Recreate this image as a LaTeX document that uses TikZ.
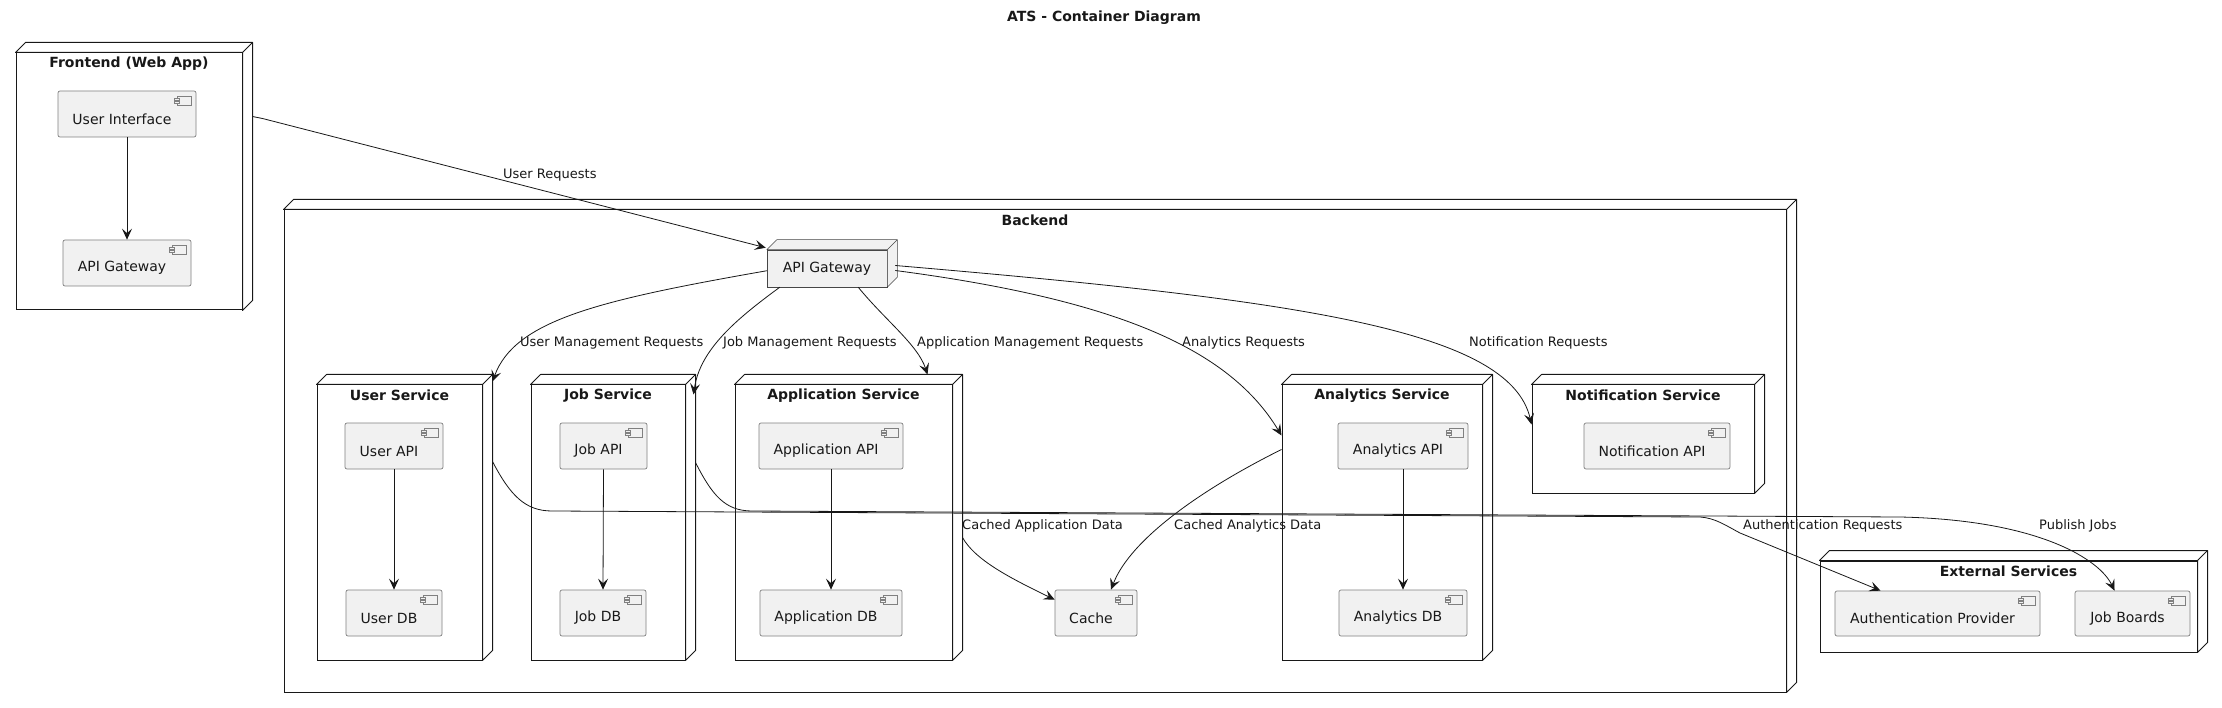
\documentclass[tikz,border=0pt]{standalone}
\usepackage{fontspec}
\setmainfont{DejaVu Sans}
\usetikzlibrary{arrows.meta}
\definecolor{compfill}{HTML}{F1F1F1}
\definecolor{ln}{HTML}{181818}
\definecolor{cborder}{HTML}{808080}
\tikzset{
  comp/.style={draw=cborder, fill=compfill, line width=0.7pt, rounded corners=2pt, inner sep=0pt,
    path picture={
      \draw[cborder, line width=0.6pt, sharp corners, fill=compfill] ([shift={(-19,5)}]path picture bounding box.north east) rectangle ++(14,9);
      \draw[cborder, line width=0.6pt, sharp corners, fill=compfill] ([shift={(-22,7)}]path picture bounding box.north east) rectangle ++(5,2);
      \draw[cborder, line width=0.6pt, sharp corners, fill=compfill] ([shift={(-22,10.5)}]path picture bounding box.north east) rectangle ++(5,2);
    }},
  dbox/.style={draw=ln, line width=1pt, inner sep=0pt},
  dline/.style={draw=ln, line width=1pt, line join=round},
  gwbox/.style={draw=ln!80, line width=0.5pt, inner sep=0pt, fill=compfill},
  gwline/.style={draw=ln!80, line width=0.5pt, line join=round},
  ttl/.style={font=\bfseries\fontsize{14}{16}\selectfont, inner sep=0pt, text=ln},
  txt/.style={font=\fontsize{14}{16}\selectfont, inner sep=0pt, text=ln},
  elbl/.style={font=\fontsize{13}{15}\selectfont, anchor=west, inner sep=0pt, text=ln},
  conn/.style={draw=ln, line width=0.8pt, -{Stealth[length=11pt,width=10pt,inset=4.5pt]}},
}
\newcommand\mkcomp[6]{%
  \node[comp, minimum width={#4-#2}, minimum height={#5-#3}] (#1) at ({(#2+#4)/2},{(#3+#5)/2}) {};
  \node[txt] (#1-t) at ([shift={(-5,5)}]#1.center) {#6};
}
\newcommand\mknode[7]{%
  \node[dbox, fill=#7, minimum width={#4-#2}, minimum height={#5-#3}] (#1) at ({(#2+#4)/2},{(#3+#5)/2}) {};
  \draw[dline, fill=#7] (#1.north west) -- ++(10,-10) -- ([shift={(10,-10)}]#1.north east) -- ([shift={(10,-10)}]#1.south east) -- (#1.south east) -- (#1.north east) -- cycle;
  \draw[dline] (#1.north east) -- ++(10,-10);
  \node[ttl] (#1-l) at ([shift={(0,11)}]#1.north) {#6};
}
\begin{document}
\begin{tikzpicture}[x=1pt,y=-1pt]
\useasboundingbox[fill=white] (0,0) rectangle (2222,708);
\node[ttl] (title) at (1104,18) {ATS - Container Diagram};

% Frontend
\mknode{fe}{16}{53}{242}{310}{Frontend (Web App)}{white}
\mkcomp{ui}{58}{91}{196}{137}{User Interface}
\mkcomp{fgw}{63}{240}{191}{286}{API Gateway}

% Backend
\mknode{be}{284}{210}{1786}{692}{Backend}{white}
\node[gwbox, minimum width=120, minimum height=37] (bgw) at (827,268.5) {};
\draw[gwline, fill=compfill] (bgw.north west) -- ++(10,-10) -- ([shift={(10,-10)}]bgw.north east) -- ([shift={(10,-10)}]bgw.south east) -- (bgw.south east) -- (bgw.north east) -- cycle;
\draw[gwline] (bgw.north east) -- ++(10,-10);
\node[txt] (bgw-t) at (bgw.center) {API Gateway};

\mknode{us}{317}{385}{482}{660}{User Service}{white}
\mkcomp{uapi}{345}{423}{443}{469}{User API}
\mkcomp{udb}{346}{590}{442}{636}{User DB}

\mknode{js}{531}{385}{685}{660}{Job Service}{white}
\mkcomp{japi}{560}{423}{647}{469}{Job API}
\mkcomp{jdb}{560}{590}{646}{636}{Job DB}

\mknode{as}{735}{385}{952}{660}{Application Service}{white}
\mkcomp{aapi}{759}{423}{903}{469}{Application API}
\mkcomp{adb}{760}{590}{902}{636}{Application DB}

\mknode{ans}{1282}{385}{1482}{660}{Analytics Service}{white}
\mkcomp{napi}{1338}{423}{1468}{469}{Analytics API}
\mkcomp{ndb}{1339}{590}{1467}{636}{Analytics DB}

\mknode{ns}{1532}{385}{1754}{493}{Notification Service}{white}
\mkcomp{noapi}{1584}{423}{1730}{469}{Notification API}

\mkcomp{cache}{1055}{590}{1137}{636}{Cache}

% External
\mknode{ext}{1820}{561}{2197}{652}{External Services}{white}
\mkcomp{ap}{1835}{591}{2040}{636}{Authentication Provider}
\mkcomp{jb}{2075}{591}{2190}{636}{Job Boards}

% internal arrows
\draw[conn] (ui.south) -- (fgw.north);
\draw[conn] (uapi.south) -- (udb.north);
\draw[conn] (japi.south) -- (jdb.north);
\draw[conn] (aapi.south) -- (adb.north);
\draw[conn] (napi.south) -- (ndb.north);

% connectors
\draw[conn] ([shift={(10,64)}]fe.north east) -- ++(10,2) -- ([shift={(-1,-2)}]bgw.north west);
\draw[conn] ([shift={(0,21)}]bgw.north west) .. controls (600,300) and (515,320) .. ([shift={(10,-3)}]us.north east);
\draw[conn] ([shift={(13,0)}]bgw.south west) .. controls (735,320) and (700,350) .. ([shift={(8,10)}]js.north east);
\draw[conn] ([shift={(-29,0)}]bgw.south east) .. controls (885,320) and (918,345) .. ([shift={(-25,-10)}]as.north east);
\draw[conn] ([shift={(8,2)}]bgw.east) .. controls (1120,300) and (1230,350) .. ([shift={(0,-87)}]ans.west);
\draw[conn] ([shift={(8,-3)}]bgw.east) .. controls (1300,300) and (1510,330) .. ([shift={(0,40)}]ns.north west);
\draw[conn] ([shift={(10,77)}]us.north east) .. controls (510,495) and (525,511) .. (552,511) -- (1700,517) .. controls (1715,518) and (1725,525) .. (1740,533) -- ([xshift=-57]ap.north);
\draw[conn] ([shift={(10,78)}]js.north east) .. controls (712,495) and (725,511) .. (752,511) -- (1900,517) .. controls (2040,520) and (2100,560) .. ([xshift=-18]jb.north);
\draw[conn] ([shift={(10,153)}]as.north east) .. controls (975,560) and (1010,578) .. ([shift={(0,10)}]cache.north west);
\draw[conn] ([shift={(0,65)}]ans.north west) .. controls (1200,490) and (1130,540) .. ([xshift=15]cache.north);

% edge labels
\node[elbl] (l1) at (503,175) {User Requests};
\node[elbl] (l2) at (520,343) {User Management Requests};
\node[elbl] (l3) at (723,343) {Job Management Requests};
\node[elbl] (l4) at (917,343) {Application Management Requests};
\node[elbl] (l5) at (1182,343) {Analytics Requests};
\node[elbl] (l6) at (1469,343) {Notification Requests};
\node[elbl] (l7) at (962,526) {Cached Application Data};
\node[elbl] (l8) at (1174,526) {Cached Analytics Data};
\node[elbl] (l9) at (1743,526) {Authentication Requests};
\node[elbl] (l10) at (2039,526) {Publish Jobs};
\end{tikzpicture}
\end{document}
